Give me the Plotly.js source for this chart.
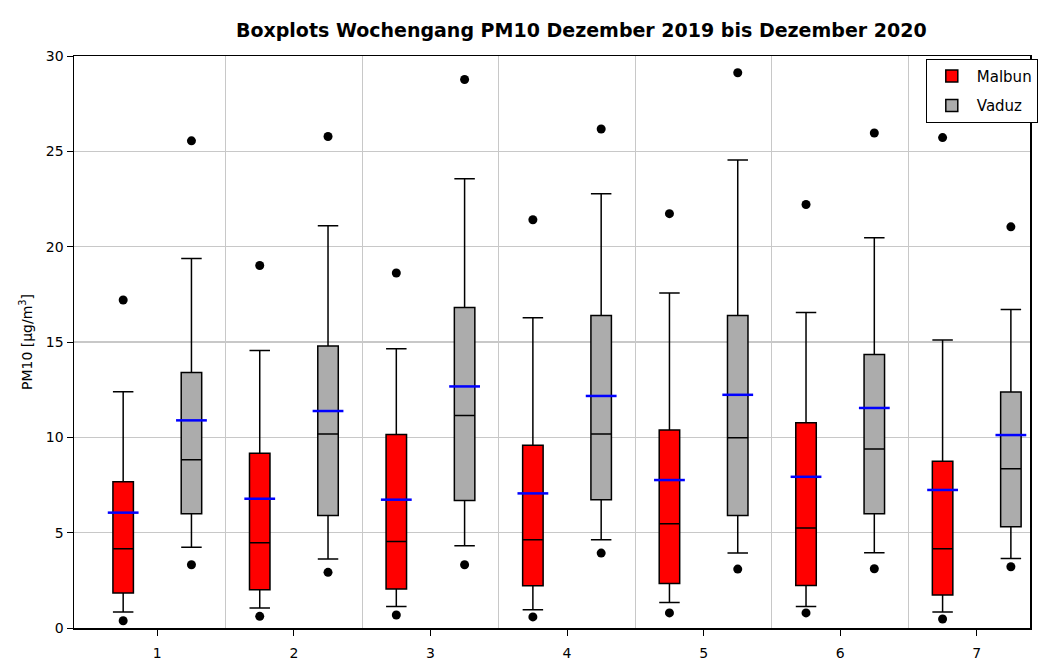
<!DOCTYPE html>
<html>
<head>
<meta charset="utf-8">
<script src="https://cdn.plot.ly/plotly-3.0.1.min.js"></script>
<style>html,body{margin:0;padding:0;background:#fff}#chart{width:1055px;height:665px}</style>
</head>
<body>
<div id="chart"></div>
<script>
// Wochentage (1..7)
const days = [1, 2, 3, 4, 5, 6, 7];

// Malbun
const malbunMin    = [0.38, 0.61, 0.68, 0.58, 0.79, 0.79, 0.47];
const malbunLow    = [0.84, 1.05, 1.13, 0.96, 1.34, 1.13, 0.84];
const malbunQ1     = [1.83, 2.01, 2.05, 2.22, 2.33, 2.23, 1.73];
const malbunMedian = [4.16, 4.47, 4.54, 4.63, 5.47, 5.24, 4.16];
const malbunMean   = [6.05, 6.78, 6.73, 7.06, 7.76, 7.93, 7.24];
const malbunQ3     = [7.67, 9.16, 10.15, 9.58, 10.38, 10.77, 8.74];
const malbunHigh   = [12.39, 14.56, 14.65, 16.27, 17.57, 16.55, 15.10];
const malbunMax    = [17.20, 19.01, 18.62, 21.41, 21.73, 22.21, 25.72];

// Vaduz
const vaduzMin    = [3.32, 2.92, 3.32, 3.93, 3.09, 3.11, 3.21];
const vaduzLow    = [4.23, 3.62, 4.32, 4.63, 3.93, 3.95, 3.65];
const vaduzQ1     = [5.99, 5.90, 6.69, 6.73, 5.90, 5.99, 5.31];
const vaduzMedian = [8.83, 10.17, 11.15, 10.17, 9.98, 9.39, 8.35];
const vaduzMean   = [10.89, 11.38, 12.67, 12.17, 12.23, 11.54, 10.12];
const vaduzQ3     = [13.40, 14.79, 16.81, 16.39, 16.39, 14.35, 12.38];
const vaduzHigh   = [19.38, 21.10, 23.56, 22.77, 24.54, 20.47, 16.71];
const vaduzMax    = [25.55, 25.78, 28.77, 26.17, 29.12, 25.96, 21.04];

const tickLabels = ['1', '2', '3', '4', '5', '6', '7'];

const off = 0.25;
const xM = days.map(d => d - off);
const xV = days.map(d => d + off);
const font = 'DejaVu Sans, Verdana, sans-serif';

function boxTrace(name, group, x, q1, med, q3, lo, hi, fill) {
  return {
    type: 'box', name: name, legendgroup: group, x: x,
    q1: q1, median: med, q3: q3, lowerfence: lo, upperfence: hi,
    width: 0.15, whiskerwidth: 1,
    fillcolor: fill, line: {color: '#000000', width: 1.5},
    boxpoints: false, hoverinfo: 'y', showlegend: true
  };
}
function meanTrace(x, y) {
  return {
    type: 'scatter', mode: 'markers', x: x, y: y, showlegend: false, hoverinfo: 'y',
    marker: {symbol: 'line-ew', size: 22, color: '#0000ff', line: {color: '#0000ff', width: 2.5}}
  };
}
function dotTrace(x, y) {
  return {
    type: 'scatter', mode: 'markers', x: x, y: y, showlegend: false, hoverinfo: 'y',
    marker: {symbol: 'circle', size: 9, color: '#000000'}
  };
}

const data = [
  boxTrace('Malbun', 'm', xM, malbunQ1, malbunMedian, malbunQ3, malbunLow, malbunHigh, '#ff0000'),
  boxTrace('Vaduz', 'v', xV, vaduzQ1, vaduzMedian, vaduzQ3, vaduzLow, vaduzHigh, '#acacac'),
  meanTrace(xM, malbunMean), meanTrace(xV, vaduzMean),
  dotTrace(xM, malbunMin), dotTrace(xM, malbunMax),
  dotTrace(xV, vaduzMin), dotTrace(xV, vaduzMax)
];

const layout = {
  width: 1055, height: 665,
  margin: {l: 74, r: 25, t: 56, b: 37},
  paper_bgcolor: '#ffffff', plot_bgcolor: '#ffffff',
  font: {family: font, size: 14, color: '#000000'},
  title: {text: '<b>Boxplots Wochengang PM10 Dezember 2019 bis Dezember 2020</b>',
          font: {family: font, size: 19, color: '#000000'},
          xref: 'container', x: 0.551, xanchor: 'center', y: 0.955, yanchor: 'middle'},
  showlegend: true,
  legend: {x: 0.891, xanchor: 'left', y: 0.995, yanchor: 'top',
           bgcolor: '#ffffff', bordercolor: '#000000', borderwidth: 1,
           tracegroupgap: 7,
           font: {family: font, size: 15, color: '#000000'}, itemwidth: 40},
  xaxis: {
    range: [0.39, 7.39], tickmode: 'array', tickvals: days, ticktext: tickLabels,
    showgrid: false, zeroline: false, showline: true, linecolor: '#000000', linewidth: 1.5, mirror: true,
    ticks: 'outside', ticklen: 6, tickcolor: '#000000', tickfont: {family: font, size: 14},
    ticklabelstandoff: 6,
    minor: {tickmode: 'array', tickvals: [1.5, 2.5, 3.5, 4.5, 5.5, 6.5], showgrid: true,
            gridcolor: '#c8c8c8', gridwidth: 1, ticks: ''}
  },
  yaxis: {
    range: [0, 30], tickmode: 'linear', tick0: 0, dtick: 5,
    showgrid: true, gridcolor: '#c8c8c8', gridwidth: 1.5, zeroline: false,
    showline: true, linecolor: '#000000', linewidth: 1.5, mirror: true,
    ticks: 'outside', ticklen: 6, tickcolor: '#000000', tickfont: {family: font, size: 14},
    title: {text: 'PM10 [µg/m<sup>3</sup>]', font: {family: font, size: 14}, standoff: 10}
  }
};

Plotly.newPlot('chart', data, layout, {displayModeBar: false, staticPlot: true});
</script>
</body>
</html>
